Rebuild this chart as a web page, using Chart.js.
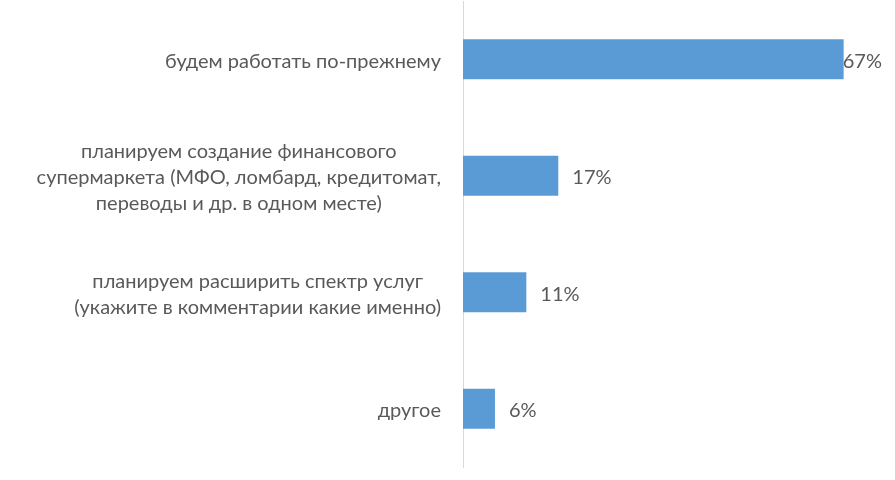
<!DOCTYPE html>
<html>
<head>
<meta charset="utf-8">
<script src="https://cdn.jsdelivr.net/npm/chart.js@4/dist/chart.umd.min.js"></script>
<style>
  html, body { margin: 0; padding: 0; background: #fff; }
  #wrap { width: 895px; height: 480px; position: relative; }
</style>
</head>
<body>
<div id="wrap"><canvas id="chart"></canvas></div>
<script>
// categories (multi-line labels as in the original)
const categories = [
  ["будем работать по-прежнему"],
  ["планируем создание финансового", "супермаркета (МФО, ломбард, кредитомат,", "переводы и др. в одном месте)"],
  ["планируем расширить спектр услуг", "(укажите в комментарии какие именно)"],
  ["другое"]
];
// share of answers, %
const shares = [66.7, 16.7, 11.1, 5.6];

const textColor = "#595959";
const fontFamily = "Lato, 'Open Sans', sans-serif";
const fontSize = 20;

// draws category labels: block right-aligned to the axis, lines centered within block
const categoryLabels = {
  id: "categoryLabels",
  afterDraw(chart) {
    const ctx = chart.ctx;
    const yScale = chart.scales.y;
    const right = chart.chartArea.left - 22;
    const lineH = 26;
    ctx.save();
    ctx.font = fontSize + "px " + fontFamily;
    ctx.fillStyle = textColor;
    ctx.textAlign = "center";
    ctx.textBaseline = "middle";
    categories.forEach((lines, i) => {
      const w = Math.max(...lines.map(l => ctx.measureText(l).width));
      const cx = right - w / 2;
      const cy = yScale.getPixelForValue(i) + 2;
      const top = cy - (lines.length - 1) * lineH / 2;
      lines.forEach((l, j) => ctx.fillText(l, cx, top + j * lineH));
    });
    ctx.restore();
  }
};

// value labels at bar ends
const valueLabels = {
  id: "valueLabels",
  afterDatasetsDraw(chart) {
    const ctx = chart.ctx;
    const meta = chart.getDatasetMeta(0);
    ctx.save();
    ctx.font = fontSize + "px " + fontFamily;
    ctx.fillStyle = textColor;
    ctx.textAlign = "left";
    ctx.textBaseline = "middle";
    meta.data.forEach((bar, i) => {
      const txt = Math.round(shares[i]) + "%";
      const w = ctx.measureText(txt).width;
      let x = bar.x + 14;
      if (x + w > chart.width - 13) x = chart.width - 13 - w;
      ctx.fillText(txt, x, bar.y + 2);
    });
    ctx.restore();
  }
};

new Chart(document.getElementById("chart"), {
  type: "bar",
  data: {
    labels: categories.map(c => c.join(" ")),
    datasets: [{
      data: shares,
      backgroundColor: "#5b9bd5",
      borderWidth: 0,
      barPercentage: 0.343,
      categoryPercentage: 1
    }]
  },
  options: {
    indexAxis: "y",
    responsive: true,
    maintainAspectRatio: false,
    animation: false,
    layout: { padding: { left: 455, right: 4, top: 1, bottom: 13 } },
    plugins: { legend: { display: false }, tooltip: { enabled: false } },
    scales: {
      x: { display: false, min: 0, max: 75 },
      y: {
        ticks: { display: false },
        grid: { display: false },
        border: { display: true, color: "#d9d9d9", width: 1 }
      }
    }
  },
  plugins: [categoryLabels, valueLabels]
});
</script>
</body>
</html>
